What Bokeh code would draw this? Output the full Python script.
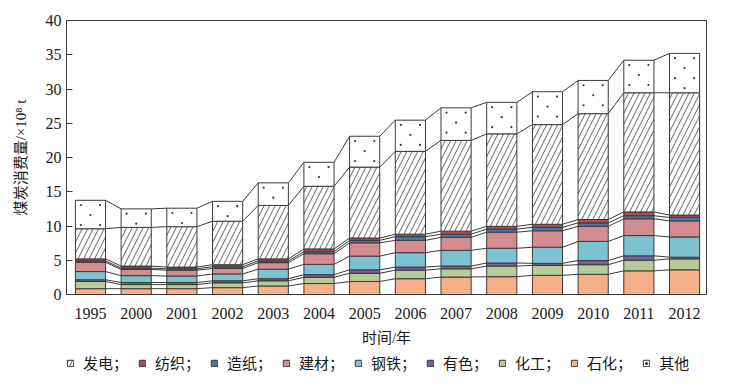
from bokeh.plotting import figure
from bokeh.models import Legend, LegendItem, FixedTicker, Range1d, ColumnDataSource
from bokeh.layouts import column
from bokeh.embed import file_html
from bokeh.resources import INLINE
import numpy as np

years = ["1995", "2000", "2001", "2002", "2003", "2004", "2005",
         "2006", "2007", "2008", "2009", "2010", "2011", "2012"]

# stacked from bottom to top (units: 10^8 t)
shihua  = [0.85, 0.85, 0.85, 1.00, 1.25, 1.60, 1.90, 2.30, 2.55, 2.60, 2.80, 2.95, 3.45, 3.60]   # 石化
huagong = [1.05, 0.60, 0.60, 0.70, 0.75, 0.90, 1.20, 1.25, 1.20, 1.55, 1.45, 1.40, 1.55, 1.60]   # 化工
youse   = [0.25, 0.30, 0.30, 0.30, 0.30, 0.40, 0.50, 0.45, 0.40, 0.45, 0.30, 0.60, 0.65, 0.25]   # 有色
gangtie = [1.20, 1.00, 0.95, 1.00, 1.40, 1.50, 2.00, 2.10, 2.30, 2.15, 2.35, 2.80, 2.95, 2.95]   # 钢铁
jiancai = [1.35, 0.90, 0.85, 0.80, 0.95, 1.55, 1.95, 1.80, 1.90, 2.35, 2.40, 2.20, 2.45, 2.35]   # 建材
zaozhi  = [0.20, 0.20, 0.20, 0.25, 0.25, 0.30, 0.35, 0.55, 0.45, 0.45, 0.50, 0.50, 0.45, 0.50]   # 造纸
fangzhi = [0.30, 0.30, 0.25, 0.30, 0.30, 0.40, 0.35, 0.35, 0.45, 0.40, 0.45, 0.50, 0.55, 0.35]   # 纺织
fadian  = [4.40, 5.65, 5.90, 6.35, 7.80, 9.15, 10.35, 12.10, 13.25, 13.50, 14.55, 15.45, 17.40, 17.85]  # 发电
qita    = [4.15, 2.70, 2.70, 2.90, 3.30, 3.50, 4.50, 4.55, 4.75, 4.60, 4.80, 4.85, 4.75, 5.75]   # 其他

keys = ["shihua", "huagong", "youse", "gangtie", "jiancai", "zaozhi", "fangzhi", "fadian", "qita"]
series = [shihua, huagong, youse, gangtie, jiancai, zaozhi, fangzhi, fadian, qita]
labels = {"fadian": "发电；", "fangzhi": "纺织；", "zaozhi": "造纸；", "jiancai": "建材；",
          "gangtie": "钢铁；", "youse": "有色；", "huagong": "化工；", "shihua": "石化；", "qita": "其他"}
legend_order = ["fadian", "fangzhi", "zaozhi", "jiancai", "gangtie", "youse", "huagong", "shihua", "qita"]

colors = ["#F4B088", "#B5CC96", "#7B5E9E", "#7DC2D0", "#D38C90", "#4A76AE", "#B5474E", "white", "white"]
hatches = [None, None, None, None, None, None, None, "right_diagonal_line", None]

xs = list(range(len(years)))
data = dict(x=xs)
for k, s in zip(keys, series):
    data[k] = s
src = ColumnDataSource(data)

EDGE = "#3a3a3a"
SERIF = "'Liberation Serif', 'Noto Sans CJK SC'"
BW = 0.66

p = figure(frame_width=640, frame_height=274,
           x_range=Range1d(-0.525, 13.48), y_range=Range1d(0, 40),
           output_backend="svg", toolbar_location=None,
           min_border_left=66, min_border_top=20, min_border_right=10, min_border_bottom=0)

# connecting lines between neighbouring bars
cum = np.cumsum(np.array(series), axis=0)
n = len(years)
for k in range(len(keys)):
    p.segment(x0=[i + BW / 2 for i in range(n - 1)], y0=list(cum[k][:-1]),
              x1=[i + 1 - BW / 2 for i in range(n - 1)], y1=list(cum[k][1:]),
              line_color=EDGE, line_width=1)

p.vbar_stack(keys, x="x", width=BW, source=src,
             fill_color=colors, line_color=EDGE, line_width=1,
             hatch_pattern=hatches, hatch_scale=11,
             hatch_color=EDGE, hatch_weight=0.8)

# sparse dot texture for the "其他" segments (quincunx, ~10 px rows)
dy = 10 / 6.85
dot_x, dot_y = [], []
for i in range(n):
    lo, hi = cum[7][i], cum[8][i]
    yy = hi - 0.7
    row = 0
    while yy > lo + 0.45:
        if row % 2 == 0:
            dot_x += [i - 0.21, i + 0.21]
            dot_y += [yy, yy]
        else:
            dot_x.append(i)
            dot_y.append(yy)
        yy -= dy
        row += 1
p.scatter(dot_x, dot_y, marker="circle", size=2.2, fill_color=EDGE, line_color=None)

p.xgrid.visible = False
p.ygrid.visible = False
p.outline_line_color = EDGE
p.outline_line_width = 1

p.xaxis.ticker = FixedTicker(ticks=xs)
p.xaxis.major_label_overrides = {i: y for i, y in enumerate(years)}
p.xaxis.major_tick_in = 0
p.xaxis.major_tick_out = 0
p.xaxis.minor_tick_line_color = None
p.xaxis.major_label_standoff = 13
p.xaxis.axis_label = "时间/年"
p.xaxis.axis_label_standoff = 8

p.yaxis.ticker = FixedTicker(ticks=[0, 5, 10, 15, 20, 25, 30, 35, 40])
p.yaxis.major_tick_in = 6
p.yaxis.major_tick_out = 0
p.yaxis.minor_tick_line_color = None
p.yaxis.major_label_standoff = 5
p.yaxis.axis_label = "煤炭消费量/×10⁸ t"
p.yaxis.axis_label_standoff = 14

for ax in (p.xaxis[0], p.yaxis[0]):
    ax.axis_line_color = EDGE
    ax.major_tick_line_color = EDGE
    ax.major_label_text_font = SERIF
    ax.major_label_text_font_size = "16px"
    ax.major_label_text_color = "#1a1a1a"
    ax.axis_label_text_font = SERIF
    ax.axis_label_text_font_size = "15px"
    ax.axis_label_text_font_style = "normal"
    ax.axis_label_text_color = "#1a1a1a"

# legend strip below the chart (hidden copies of the series supply the legend glyphs)
p2 = figure(width=716, height=30, output_backend="svg", toolbar_location=None,
            min_border=0, x_range=Range1d(-0.525, 13.48), y_range=Range1d(0, 40))
p2.axis.visible = False
p2.grid.visible = False
p2.outline_line_color = None

rs2 = p2.vbar_stack(keys, x="x", width=BW, source=src,
                    fill_color=colors, line_color=EDGE, line_width=1,
                    hatch_pattern=hatches, hatch_scale=8,
                    hatch_color=EDGE, hatch_weight=0.8)
for r in rs2:
    r.visible = False
dots2 = p2.scatter(dot_x, dot_y, marker="circle", size=2.2, fill_color=EDGE, line_color=None)
dots2.visible = False
rmap2 = dict(zip(keys, rs2))

items = []
for k in legend_order:
    rr = [rmap2[k], dots2] if k == "qita" else [rmap2[k]]
    items.append(LegendItem(label=labels[k], renderers=rr))
legend = Legend(items=items, orientation="horizontal", location=(0, 5),
                glyph_width=8, glyph_height=8, label_standoff=9, spacing=10,
                padding=0, margin=0, border_line_color=None, background_fill_alpha=0,
                inactive_fill_alpha=0,
                label_text_font=SERIF, label_text_font_size="15px", label_text_color="#1a1a1a")
p2.add_layout(legend)

open("out.html", "w").write(file_html(column(p, p2), INLINE))
